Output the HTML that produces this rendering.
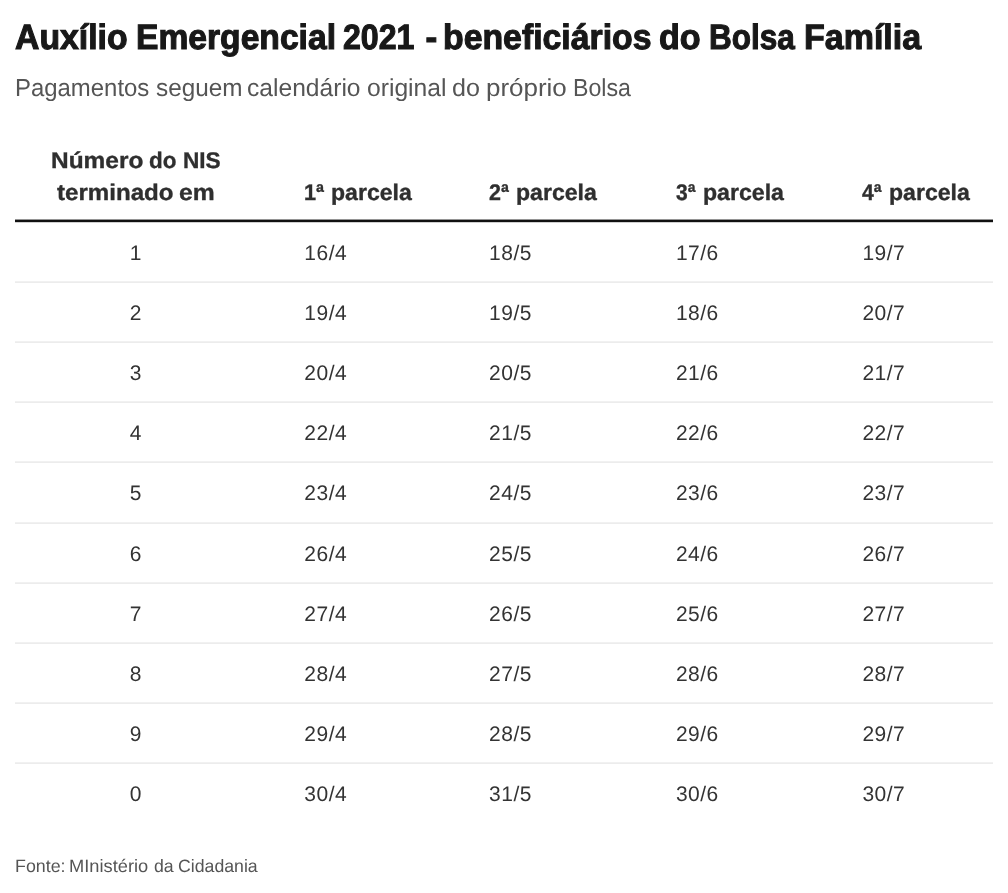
<!DOCTYPE html>
<html lang="pt-BR">
<head>
<meta charset="utf-8">
<title>Auxílio Emergencial 2021 - beneficiários do Bolsa Família</title>
<style>
html,body{margin:0;padding:0;background:#fff;}
body{width:1008px;height:893px;position:relative;overflow:hidden;font-family:"Liberation Sans",Arial,sans-serif;color:#333;text-rendering:geometricPrecision;}
h1,p,table,thead,tbody,tr,th,td,footer{display:block;margin:0;padding:0;border:0;font-weight:normal;white-space:nowrap;line-height:1;}
h1,p,tr,th,footer{position:absolute;left:0;top:0;width:1008px;height:0;}
td,span{position:absolute;white-space:nowrap;line-height:1;}
span{transform-origin:0 50%;}
h1{font-size:35.2px;font-weight:bold;color:#181818;-webkit-text-stroke:1.1px #181818;}
p{font-size:24.6px;color:#555;}
th{font-size:22.7px;font-weight:bold;color:#2f2f2f;-webkit-text-stroke:0.35px #2f2f2f;}
td{font-size:21.0px;color:#333;letter-spacing:0.5px;}
td.n{width:200px;margin-left:-100px;text-align:center;letter-spacing:0;}
tr::after{content:"";position:absolute;left:15px;width:978px;top:var(--y);height:2px;background:linear-gradient(to bottom,#f1f1f1 0 1px,#ececec 1px 2px);}
thead tr::after{top:219px;height:4px;background:linear-gradient(to bottom,rgba(17,17,17,.45) 0 1px,#111 1px 3px,rgba(17,17,17,.2) 3px 4px);}
tbody tr:last-child::after{display:none;}
footer{font-size:17.9px;color:#555;}
</style>
</head>
<body>
<h1><span style="left:15.25px;top:20px;transform:scaleX(0.9596)">Auxílio</span> <span style="left:136.07px;top:20px;transform:scaleX(0.9556)">Emergencial</span> <span style="left:343.09px;top:20px;transform:scaleX(0.9117)">2021</span> <span style="left:425.38px;top:20px">-</span> <span style="left:443.29px;top:20px;transform:scaleX(0.9607)">beneficiários</span> <span style="left:659.10px;top:20px;transform:scaleX(0.9693)">do</span> <span style="left:709.38px;top:20px;transform:scaleX(0.8951)">Bolsa</span> <span style="left:804.45px;top:20px;transform:scaleX(0.9661)">Família</span></h1>
<p><span style="left:14.86px;top:77px;transform:scaleX(0.9725)">Pagamentos</span> <span style="left:155.82px;top:77px;transform:scaleX(0.9881)">seguem</span> <span style="left:247.30px;top:77px;transform:scaleX(1.0004)">calendário</span> <span style="left:366.80px;top:77px;transform:scaleX(1.0026)">original</span> <span style="left:452.28px;top:77px;transform:scaleX(1.0214)">do</span> <span style="left:486.10px;top:77px;transform:scaleX(1.0553)">próprio</span> <span style="left:573.42px;top:77px;transform:scaleX(0.9422)">Bolsa</span></p>
<table>
<thead>
<tr>
<th><span style="left:51.17px;top:149px;transform:scaleX(1.0774)">Número</span> <span style="left:149.31px;top:149px;transform:scaleX(0.9885)">do</span> <span style="left:182.75px;top:149px;transform:scaleX(0.9966)">NIS</span> <span style="left:57.25px;top:181px;transform:scaleX(1.0628)">terminado</span> <span style="left:179.18px;top:181px;transform:scaleX(1.0881)">em</span></th>
<th><span style="left:304.29px;top:181px;transform:scaleX(0.9551)">1ª</span> <span style="left:331.48px;top:181px;transform:scaleX(1.0166)">parcela</span></th>
<th><span style="left:489.27px;top:181px;transform:scaleX(0.9467)">2ª</span> <span style="left:516.48px;top:181px;transform:scaleX(1.0166)">parcela</span></th>
<th><span style="left:676.10px;top:181px;transform:scaleX(0.9263)">3ª</span> <span style="left:702.88px;top:181px;transform:scaleX(1.0191)">parcela</span></th>
<th><span style="left:862.40px;top:181px;transform:scaleX(0.9311)">4ª</span> <span style="left:889.48px;top:181px;transform:scaleX(1.0166)">parcela</span></th>
</tr>
</thead>
<tbody>
<tr style="--y:281px"><td class="n" style="left:135.7px;top:243px">1</td><td style="left:304.3px;top:243px">16/4</td><td style="left:489.1px;top:243px">18/5</td><td style="left:675.9px;top:243px">17/6</td><td style="left:862.4px;top:243px">19/7</td></tr>
<tr style="--y:341px"><td class="n" style="left:135.7px;top:303px">2</td><td style="left:304.3px;top:303px">19/4</td><td style="left:489.1px;top:303px">19/5</td><td style="left:675.9px;top:303px">18/6</td><td style="left:862.4px;top:303px">20/7</td></tr>
<tr style="--y:401px"><td class="n" style="left:135.7px;top:363px">3</td><td style="left:304.3px;top:363px">20/4</td><td style="left:489.1px;top:363px">20/5</td><td style="left:675.9px;top:363px">21/6</td><td style="left:862.4px;top:363px">21/7</td></tr>
<tr style="--y:461px"><td class="n" style="left:135.7px;top:423px">4</td><td style="left:304.3px;top:423px">22/4</td><td style="left:489.1px;top:423px">21/5</td><td style="left:675.9px;top:423px">22/6</td><td style="left:862.4px;top:423px">22/7</td></tr>
<tr style="--y:522px"><td class="n" style="left:135.7px;top:483px">5</td><td style="left:304.3px;top:483px">23/4</td><td style="left:489.1px;top:483px">24/5</td><td style="left:675.9px;top:483px">23/6</td><td style="left:862.4px;top:483px">23/7</td></tr>
<tr style="--y:582px"><td class="n" style="left:135.7px;top:544px">6</td><td style="left:304.3px;top:544px">26/4</td><td style="left:489.1px;top:544px">25/5</td><td style="left:675.9px;top:544px">24/6</td><td style="left:862.4px;top:544px">26/7</td></tr>
<tr style="--y:642px"><td class="n" style="left:135.7px;top:604px">7</td><td style="left:304.3px;top:604px">27/4</td><td style="left:489.1px;top:604px">26/5</td><td style="left:675.9px;top:604px">25/6</td><td style="left:862.4px;top:604px">27/7</td></tr>
<tr style="--y:702px"><td class="n" style="left:135.7px;top:664px">8</td><td style="left:304.3px;top:664px">28/4</td><td style="left:489.1px;top:664px">27/5</td><td style="left:675.9px;top:664px">28/6</td><td style="left:862.4px;top:664px">28/7</td></tr>
<tr style="--y:762px"><td class="n" style="left:135.7px;top:724px">9</td><td style="left:304.3px;top:724px">29/4</td><td style="left:489.1px;top:724px">28/5</td><td style="left:675.9px;top:724px">29/6</td><td style="left:862.4px;top:724px">29/7</td></tr>
<tr style="--y:822px"><td class="n" style="left:135.7px;top:784px">0</td><td style="left:304.3px;top:784px">30/4</td><td style="left:489.1px;top:784px">31/5</td><td style="left:675.9px;top:784px">30/6</td><td style="left:862.4px;top:784px">30/7</td></tr>
</tbody>
</table>
<footer><span style="left:15.30px;top:858px;transform:scaleX(0.9960)">Fonte:</span> <span style="left:69.48px;top:858px;transform:scaleX(1.0211)">MInistério</span> <span style="left:154.22px;top:858px;transform:scaleX(0.9896)">da</span> <span style="left:177.76px;top:858px;transform:scaleX(0.9890)">Cidadania</span></footer>
</body>
</html>
